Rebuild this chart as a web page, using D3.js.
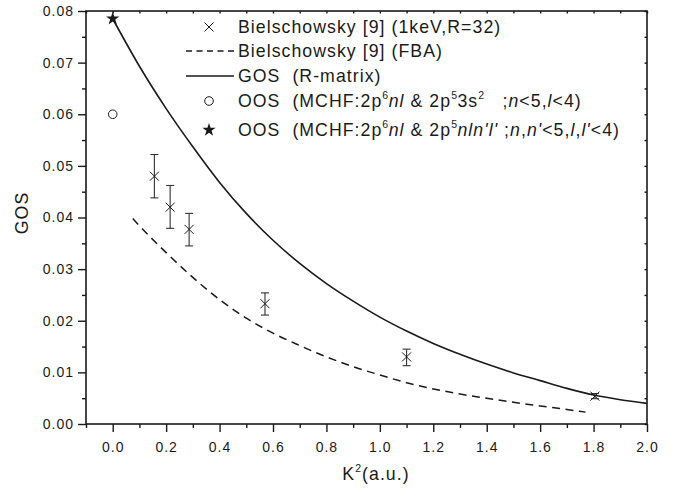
<!DOCTYPE html>
<html><head><meta charset="utf-8">
<script src="https://cdn.jsdelivr.net/npm/d3@7"></script>
<style>body{margin:0;background:#fff}svg{display:block;font-family:"Liberation Sans",Arial,sans-serif}</style>
</head><body><svg id="c" width="685" height="491"></svg>
<script>
// GOS (R-matrix) solid curve
const gosK2  = [0.0,0.1,0.2,0.3,0.4,0.5,0.6,0.7,0.8,0.9,1.0,1.1,1.2,1.3,1.4,1.5,1.6,1.7,1.8,1.9,2.0];
const gosVal = [0.0785,0.0693,0.0611,0.0537,0.0468,0.0408,0.0356,0.0311,0.0272,0.0238,0.0207,0.0180,0.0156,0.0135,0.0116,0.0099,0.0084,0.0069,0.0056,0.0047,0.0040];
// Bielschowsky FBA dashed curve
const fbaK2  = [0.075,0.1,0.2,0.3,0.4,0.5,0.6,0.7,0.8,0.9,1.0,1.1,1.2,1.3,1.4,1.5,1.6,1.7,1.77];
const fbaVal = [0.0398,0.0384,0.0332,0.0284,0.0241,0.0205,0.0176,0.0152,0.0130,0.0111,0.0095,0.0080,0.0068,0.0058,0.0050,0.0042,0.0035,0.0028,0.0023];
// Bielschowsky experiment (1keV, R=32)
const expK2  = [0.156,0.215,0.286,0.570,1.100,1.805];
const expVal = [0.0480,0.0420,0.0377,0.0233,0.0130,0.0054];
const expLo  = [0.0438,0.0379,0.0345,0.0211,0.0113,0.0049];
const expHi  = [0.0522,0.0462,0.0408,0.0254,0.0145,0.0059];
// OOS points
const oosCircK2 = [0.0], oosCircVal = [0.0600];
const oosStarK2 = [0.0], oosStarVal = [0.0785];
// ticks
const xMajor = [0.0,0.2,0.4,0.6,0.8,1.0,1.2,1.4,1.6,1.8,2.0];
const xMinor = [-0.1,0.1,0.3,0.5,0.7,0.9,1.1,1.3,1.5,1.7,1.9];
const xLabels = ["0.0","0.2","0.4","0.6","0.8","1.0","1.2","1.4","1.6","1.8","2.0"];
const yMajor = [0.00,0.01,0.02,0.03,0.04,0.05,0.06,0.07,0.08];
const yMinor = [0.005,0.015,0.025,0.035,0.045,0.055,0.065,0.075];
const yLabels = ["0.00","0.01","0.02","0.03","0.04","0.05","0.06","0.07","0.08"];

const svg = d3.select("#c");
const x = d3.scaleLinear([-0.1,2.0],[86,647]);
const y = d3.scaleLinear([0,0.08],[424,11]);
const ink = "#1a1a1a";

function styleAxis(g){ g.select(".domain").remove(); g.selectAll("line").attr("stroke",ink).attr("stroke-width",1.4);
  g.selectAll("text").attr("fill",ink).attr("font-size",14).attr("letter-spacing","1px").attr("font-family","Liberation Sans, Arial"); }

// bottom axis
svg.append("g").attr("transform","translate(0,424)")
  .call(d3.axisBottom(x).tickValues(xMajor).tickSize(8).tickPadding(10).tickFormat((d,i)=>xLabels[i])).call(styleAxis);
svg.append("g").attr("transform","translate(0,424)")
  .call(d3.axisBottom(x).tickValues(xMinor).tickSize(4).tickFormat("")).call(styleAxis);
// left axis
svg.append("g").attr("transform","translate(86,0)")
  .call(d3.axisLeft(y).tickValues(yMajor).tickSize(8).tickPadding(4).tickFormat((d,i)=>yLabels[i])).call(styleAxis);
svg.append("g").attr("transform","translate(86,0)")
  .call(d3.axisLeft(y).tickValues(yMinor).tickSize(4).tickFormat("")).call(styleAxis);
// top axis (small inward ticks)
svg.append("g").attr("transform","translate(0,11)")
  .call(d3.axisTop(x).tickValues(xMajor.concat(xMinor)).tickSize(-2.5).tickFormat("")).call(styleAxis);
// right axis
svg.append("g").attr("transform","translate(647,0)")
  .call(d3.axisRight(y).tickValues(yMajor.concat(yMinor)).tickSize(-2.5).tickFormat("")).call(styleAxis);

// frame
svg.append("rect").attr("x",86).attr("y",11).attr("width",561).attr("height",413)
  .attr("fill","none").attr("stroke",ink).attr("stroke-width",1.6);

// curves
const line = d3.line().x(d=>x(d[0])).y(d=>y(d[1])).curve(d3.curveMonotoneX);
svg.append("path").attr("d",line(gosK2.map((k,i)=>[k,gosVal[i]])))
  .attr("fill","none").attr("stroke",ink).attr("stroke-width",1.6);
svg.append("path").attr("d",line(fbaK2.map((k,i)=>[k,fbaVal[i]])))
  .attr("fill","none").attr("stroke",ink).attr("stroke-width",1.5).attr("stroke-dasharray","8,5.5");

// error bars + crosses
const eb = svg.append("g").attr("stroke","#333").attr("stroke-width",1.1).attr("fill","none");
expK2.forEach((k,i)=>{
  const cx = x(k);
  eb.append("line").attr("x1",cx).attr("x2",cx).attr("y1",y(expLo[i])).attr("y2",y(expHi[i]));
  eb.append("line").attr("x1",cx-4).attr("x2",cx+4).attr("y1",y(expLo[i])).attr("y2",y(expLo[i]));
  eb.append("line").attr("x1",cx-4).attr("x2",cx+4).attr("y1",y(expHi[i])).attr("y2",y(expHi[i]));
});
function cross(g,cx,cy,r){
  g.append("line").attr("x1",cx-r).attr("x2",cx+r).attr("y1",cy-r).attr("y2",cy+r);
  g.append("line").attr("x1",cx-r).attr("x2",cx+r).attr("y1",cy+r).attr("y2",cy-r);
}
const cr = svg.append("g").attr("stroke",ink).attr("stroke-width",1);
expK2.forEach((k,i)=>cross(cr,x(k),y(expVal[i]),4.5));

// OOS circle & star
oosCircK2.forEach((k,i)=>svg.append("circle").attr("cx",x(k)).attr("cy",y(oosCircVal[i])).attr("r",4.3)
  .attr("fill","none").attr("stroke",ink).attr("stroke-width",1));
const star = d3.symbol().type(d3.symbolStar).size(55);
oosStarK2.forEach((k,i)=>svg.append("path").attr("d",star()).attr("transform",`translate(${x(k)},${y(oosStarVal[i])})`).attr("fill",ink));

// legend
const LX = 238, SX = 209, fs = 17.7, sfs = 10.5;
const lg = svg.append("g").attr("fill",ink).attr("font-size",fs).attr("letter-spacing","1.05px");
const rows = [27,51,76,101,130];
const lgc = svg.append("g").attr("stroke",ink).attr("stroke-width",1);
cross(lgc,SX,rows[0],4.5);
svg.append("line").attr("x1",186).attr("x2",235).attr("y1",rows[1]).attr("y2",rows[1]).attr("stroke",ink).attr("stroke-width",1.5).attr("stroke-dasharray","6,4.5");
svg.append("line").attr("x1",186).attr("x2",234).attr("y1",rows[2]).attr("y2",rows[2]).attr("stroke",ink).attr("stroke-width",1.6);
svg.append("circle").attr("cx",SX).attr("cy",rows[3]).attr("r",4.3).attr("fill","none").attr("stroke",ink);
svg.append("path").attr("d",star()).attr("transform",`translate(${SX},${rows[4]})`).attr("fill",ink);

function richText(yc, parts){
  const t = lg.append("text").attr("x",LX).attr("y",yc).attr("dy","0.36em");
  let shift = 0;
  parts.forEach(p=>{
    const ts = t.append("tspan").text(p.t);
    if(p.i) ts.attr("font-style","italic");
    if(p.s){ ts.attr("font-size",sfs).attr("letter-spacing","0.5px").attr("dy",-8 - shift); shift = -8; }
    else if(shift!==0){ ts.attr("dy",-shift); shift = 0; }
  });
  return t;
}
richText(rows[0],[{t:"Bielschowsky [9] (1keV,R=32)"}]);
richText(rows[1],[{t:"Bielschowsky [9] (FBA)"}]);
richText(rows[2],[{t:"GOS\u00a0\u00a0(R-matrix)"}]);
richText(rows[3],[{t:"OOS\u00a0\u00a0(MCHF:2p"},{t:"6",s:1},{t:"nl",i:1},{t:" & 2p"},{t:"5",s:1},{t:"3s"},{t:"2",s:1},{t:"\u00a0\u00a0\u00a0;"},{t:"n",i:1},{t:"<5,"},{t:"l",i:1},{t:"<4)"}]);
richText(rows[4],[{t:"OOS\u00a0\u00a0(MCHF:2p"},{t:"6",s:1},{t:"nl",i:1},{t:" & 2p"},{t:"5",s:1},{t:"nln'l'",i:1},{t:" ;"},{t:"n",i:1},{t:","},{t:"n'",i:1},{t:"<5,"},{t:"l",i:1},{t:","},{t:"l'",i:1},{t:"<4)"}]);

// axis titles
svg.append("text").attr("transform","translate(28,213) rotate(-90)").attr("text-anchor","middle")
  .attr("font-size",17.7).attr("letter-spacing","1.05px").attr("fill",ink).text("GOS");
const xt = svg.append("text").attr("x",376).attr("y",480).attr("text-anchor","middle").attr("font-size",17.7).attr("letter-spacing","1.05px").attr("fill",ink);
xt.append("tspan").text("K");
xt.append("tspan").text("2").attr("font-size",10.5).attr("dy",-8);
xt.append("tspan").text("(a.u.)").attr("dy",8);
</script></body></html>
